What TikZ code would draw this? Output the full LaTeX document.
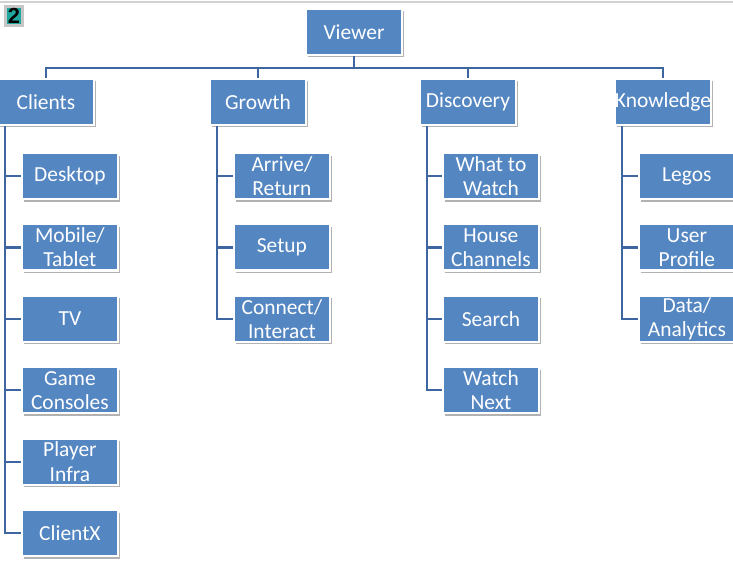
\documentclass[tikz,border=0pt]{standalone}
\usepackage{fontspec}
\setmainfont{Carlito}
\newfontfamily\badgefont{Liberation Sans}
\usetikzlibrary{calc,shadows}
\definecolor{BoxBlue}{RGB}{84,134,194}
\definecolor{LinkBlue}{RGB}{62,102,160}
\definecolor{BadgeTeal}{RGB}{32,168,158}

\begin{document}
\begin{tikzpicture}[x=0.01cm,y=-0.01cm,
  box/.style={fill=BoxBlue,draw=white,line width=0.6pt,text=white,minimum width=0.96cm,minimum height=0.46cm,inner sep=0pt,align=center,font=\fontsize{6.1}{6.9}\selectfont,drop shadow={shadow xshift=0.5pt,shadow yshift=-0.7pt,opacity=0.3,fill=black}},
  link/.style={draw=LinkBlue,line width=0.6pt}]
\useasboundingbox (0,0) rectangle (733,562);
\draw[gray!35] (0,2) -- (733,2);
\node[fill=BadgeTeal,draw=gray!45,line width=0.8pt,inner sep=0.6pt,font=\badgefont\bfseries\fontsize{6.2}{7}\selectfont] (badge) at (14,16) {2};
\node[box] (viewer) at (354,32) {Viewer};
% top row, hanging from the viewer bar
\foreach \nm/\x/\txt in {clients/46/Clients,growth/258/Growth,discovery/468/Discovery,knowledge/663/Knowledge}{
  \node[box] (\nm) at (\x,102) {\txt};
  \draw[link] (viewer.south) -- ++(0,12) -| (\nm.north);
  \coordinate (\nm-sp) at ($(\nm.south west)+(8,0)$);}
% children on each spine
\foreach \txt [count=\i] in {Desktop,{Mobile/\\Tablet},TV,{Game\\Consoles},{Player\\Infra},ClientX}{
  \node[box] (clients-\i) at ($(clients-sp)+(65,{50+71.4*(\i-1)})$) {\txt};
  \draw[link] (clients-sp) |- (clients-\i.west);}
\foreach \txt [count=\i] in {{Arrive/\\Return},Setup,{Connect/\\Interact}}{
  \node[box] (growth-\i) at ($(growth-sp)+(65,{50+71.4*(\i-1)})$) {\txt};
  \draw[link] (growth-sp) |- (growth-\i.west);}
\foreach \txt [count=\i] in {{What to\\Watch},{House\\Channels},Search,{Watch\\Next}}{
  \node[box] (discovery-\i) at ($(discovery-sp)+(64,{50+71.4*(\i-1)})$) {\txt};
  \draw[link] (discovery-sp) |- (discovery-\i.west);}
\foreach \txt [count=\i] in {Legos,{User\\Profile},{Data/\\Analytics}}{
  \node[box] (knowledge-\i) at ($(knowledge-sp)+(65,{50+71.4*(\i-1)})$) {\txt};
  \draw[link] (knowledge-sp) |- (knowledge-\i.west);}
\end{tikzpicture}
\end{document}
